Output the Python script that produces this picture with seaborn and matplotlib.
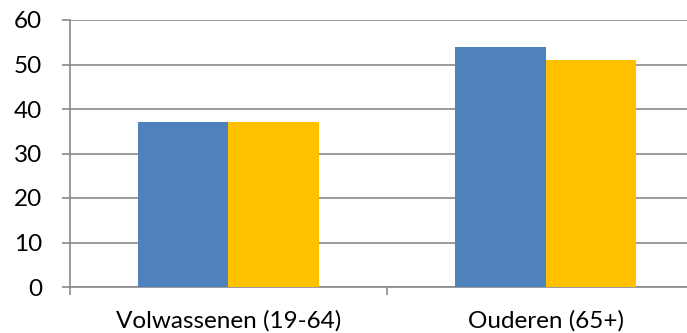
import matplotlib
matplotlib.use("Agg")
import matplotlib.pyplot as plt
import seaborn as sns
import pandas as pd

categories = ["Volwassenen (19-64)", "Ouderen (65+)"]
series_names = ["Reeks 1", "Reeks 2"]
series_1 = [37, 54]
series_2 = [37, 51]
y_ticks = [0, 10, 20, 30, 40, 50, 60]

df = pd.DataFrame({
    "groep": categories * 2,
    "reeks": [series_names[0]] * len(categories) + [series_names[1]] * len(categories),
    "waarde": series_1 + series_2,
})

sns.set_theme(style="white")
plt.rcParams["font.family"] = ["Lato", "DejaVu Sans"]

fig = plt.figure(figsize=(6.87, 3.33), dpi=100)
ax = fig.add_axes([69.5 / 687, 46 / 333, 635 / 687, 267 / 333])

sns.barplot(data=df, x="groep", y="waarde", hue="reeks",
            palette=["#4F81BD", "#FFC000"], width=0.571,
            linewidth=0, saturation=1, legend=False, ax=ax, zorder=3)

ax.set_ylim(0, 60)
ax.set_yticks(y_ticks)
ax.set_xlim(-0.5, 1.5)
ax.set_xticks([0, 1])
ax.set_xticklabels(categories)
ax.set_xlabel("")
ax.set_ylabel("")

grid_color = "#8a8a8a"
ax.yaxis.grid(True, color=grid_color, linewidth=1.2, zorder=0)
ax.set_axisbelow(True)
for side in ["top", "right"]:
    ax.spines[side].set_visible(False)
for side in ["left", "bottom"]:
    ax.spines[side].set_color(grid_color)
    ax.spines[side].set_linewidth(1.2)

tick_len = 5.8
ax.tick_params(axis="y", which="major", left=True, length=tick_len, width=1.2,
               color=grid_color, pad=14, labelsize=17.5, labelcolor="black")
ax.tick_params(axis="x", which="major", bottom=False, length=0, pad=16.5,
               labelsize=17.5, labelcolor="black")
# category boundary ticks below the axis
ax.set_xticks([-0.5, 0.5], minor=True)
ax.tick_params(axis="x", which="minor", bottom=True, length=tick_len, width=1.2,
               color=grid_color)

fig.savefig("out.png", dpi=100)
